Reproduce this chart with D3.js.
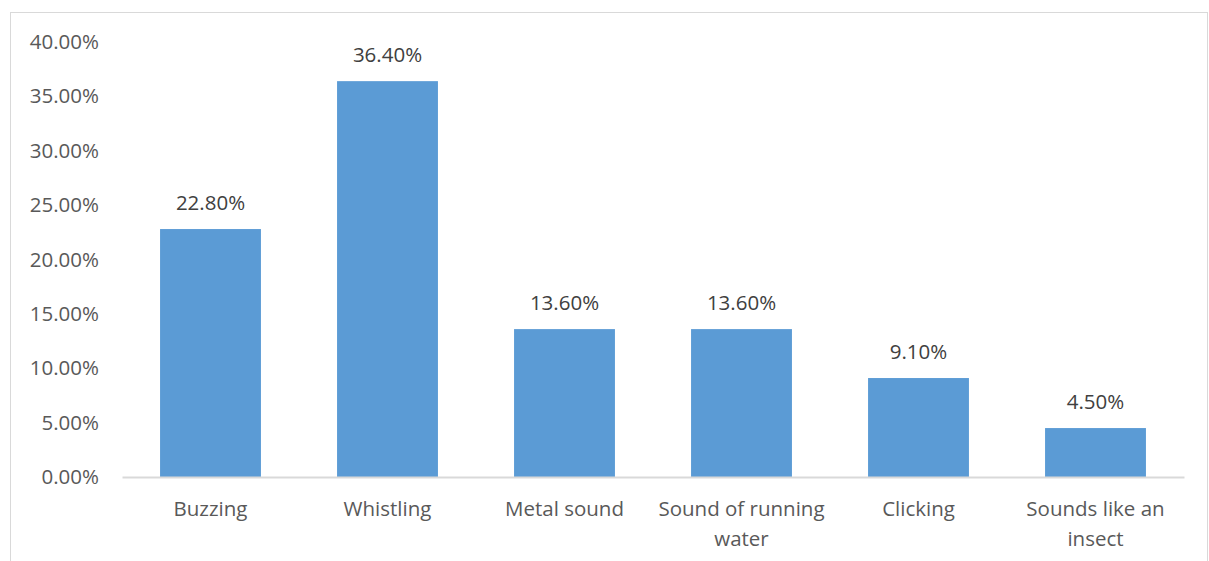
<!DOCTYPE html>
<html>
<head>
<meta charset="utf-8">
<script src="https://cdn.jsdelivr.net/npm/d3@7"></script>
<style>
  html, body { margin: 0; padding: 0; background: #fff; }
  svg { display: block; font-family: "Open Sans", Lato, sans-serif; }
</style>
</head>
<body>
<svg id="chart" width="1209" height="561"></svg>
<script>
// Reported sound types and their share of respondents
const categories = ["Buzzing", "Whistling", "Metal sound", "Sound of running water", "Clicking", "Sounds like an insect"];
const categoryLines = [["Buzzing"], ["Whistling"], ["Metal sound"], ["Sound of running", "water"], ["Clicking"], ["Sounds like an", "insect"]];
const values = [0.228, 0.364, 0.136, 0.136, 0.091, 0.045];
const yTicks = [0, 0.05, 0.10, 0.15, 0.20, 0.25, 0.30, 0.35, 0.40];

const svg = d3.select("#chart");
const textColor = "#595959";
const fontSize = "20.5px";

// chart area frame
svg.append("rect")
  .attr("x", 10.5).attr("y", 12.5)
  .attr("width", 1197).attr("height", 560)
  .attr("fill", "none").attr("stroke", "#d9d9d9").attr("stroke-width", 1);

const x = d3.scaleBand().domain(categories).range([122, 1184]).paddingInner(0.43).paddingOuter(0.215);
const y = d3.scaleLinear().domain([0, 0.40]).range([477, 42]);

const fmt = d3.format(".2%");

// y axis labels (no axis line, no ticks)
const yAxis = d3.axisLeft(y).tickValues(yTicks).tickFormat(fmt).tickSize(0).tickPadding(0);
const gy = svg.append("g").attr("transform", "translate(99,0)").call(yAxis);
gy.select(".domain").remove();
gy.selectAll("text").attr("fill", textColor).style("font-size", fontSize).style("font-family", "'Open Sans', Lato, sans-serif");

// bars
svg.append("g").selectAll("rect")
  .data(values)
  .join("rect")
  .attr("x", (d, i) => x(categories[i]))
  .attr("y", d => y(d))
  .attr("width", x.bandwidth())
  .attr("height", d => y(0) - y(d))
  .attr("fill", "#5b9bd5");

// category axis line
const xAxis = d3.axisBottom(x).tickSize(0).tickFormat("");
const gx = svg.append("g").attr("transform", `translate(0,${y(0)})`).call(xAxis);
gx.select(".domain").attr("stroke", "#d9d9d9").attr("stroke-width", 2);

// category labels, wrapped
const lbl = svg.append("g").selectAll("text")
  .data(categories)
  .join("text")
  .attr("x", d => x(d) + x.bandwidth() / 2)
  .attr("y", 516)
  .attr("text-anchor", "middle")
  .attr("fill", textColor)
  .style("font-size", fontSize);
lbl.each(function(d, i) {
  d3.select(this).selectAll("tspan")
    .data(categoryLines[i])
    .join("tspan")
    .attr("x", x(d) + x.bandwidth() / 2)
    .attr("dy", (t, j) => j === 0 ? 0 : 30)
    .text(t => t);
});

// value labels
svg.append("g").selectAll("text")
  .data(values)
  .join("text")
  .attr("x", (d, i) => x(categories[i]) + x.bandwidth() / 2)
  .attr("y", d => y(d) - 19)
  .attr("text-anchor", "middle")
  .attr("fill", "#404040")
  .style("font-size", fontSize)
  .text(d => fmt(d));
</script>
</body>
</html>
